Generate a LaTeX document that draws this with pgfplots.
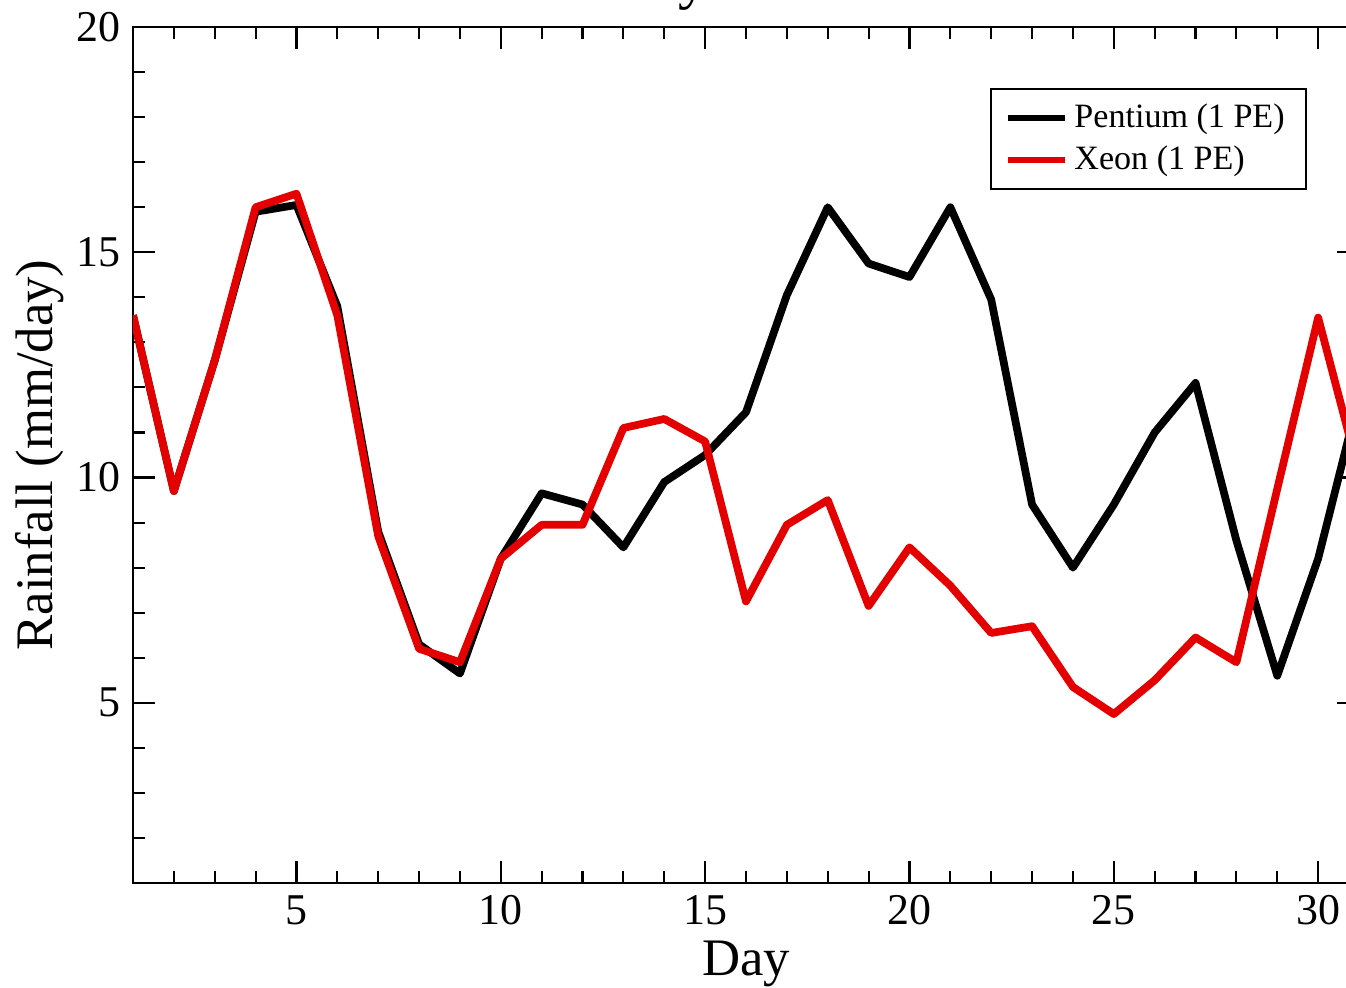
\documentclass[border=0pt]{standalone}
\usepackage{fontspec}
\setmainfont{Liberation Serif}
\usepackage{pgfplots}
\pgfplotsset{compat=1.18}
\begin{document}
\begin{tikzpicture}
% the reference is cropped at the top and on the right
\useasboundingbox (-1.33,-1.04) rectangle (12.13,8.83);
\clip (-1.33,-1.04) rectangle (12.13,8.83);
\begin{axis}[
  scale only axis, width=12.26cm, height=8.56cm,
  xmin=1, xmax=31, ymin=1, ymax=20,
  xtick={5,10,...,30}, ytick={5,10,15,20},
  minor xtick={2,3,...,31}, minor ytick={2,3,...,19},
  tick align=inside,
  major tick length=0.22cm, minor tick length=0.12cm,
  tick style={line width=0.6pt, black},
  axis line style={line width=0.6pt},
  /pgf/number format/assume math mode=true,
  ticklabel style={font=\fontsize{12.5}{14}\selectfont},
  xlabel={Day}, ylabel={Rainfall (mm/day)},
  every axis x label/.style={at={(axis description cs:0.5,0)}, yshift=-0.92cm,
    anchor=base, font=\fontsize{15}{17}\selectfont},
  every axis y label/.style={at={(axis description cs:-0.0759,0.5)}, rotate=90,
    anchor=center, font=\fontsize{15}{17}\selectfont},
  legend style={at={(0.699,0.929)}, anchor=north west, draw=black, line width=0.6pt,
    font=\fontsize{9.7}{11}\selectfont, row sep=-0.3pt, inner xsep=4pt, inner ysep=2.2pt},
  legend cell align=left,
  legend image code/.code={\draw[#1, line width=1.5pt] (0cm,0cm) -- (0.57cm,0cm);},
]
\addplot[black, line width=2.2pt, line join=round] coordinates {
  (1,13.6)(2,9.7)(3,12.6)(4,15.9)(5,16.05)(6,13.8)(7,8.8)(8,6.3)(9,5.65)(10,8.2)
  (11,9.65)(12,9.4)(13,8.45)(14,9.9)(15,10.5)(16,11.45)(17,14.05)(18,16.0)(19,14.75)(20,14.45)
  (21,16.0)(22,13.95)(23,9.4)(24,8.0)(25,9.4)(26,11.0)(27,12.1)(28,8.6)(29,5.6)(30,8.2)(31,11.8)
};
\addplot[red!90!black, line width=2.2pt, line join=round] coordinates {
  (1,13.6)(2,9.7)(3,12.6)(4,16.0)(5,16.3)(6,13.6)(7,8.7)(8,6.2)(9,5.9)(10,8.2)
  (11,8.95)(12,8.95)(13,11.1)(14,11.3)(15,10.8)(16,7.25)(17,8.95)(18,9.5)(19,7.15)(20,8.45)
  (21,7.6)(22,6.55)(23,6.7)(24,5.35)(25,4.75)(26,5.5)(27,6.45)(28,5.9)(29,9.75)(30,13.55)(31,10.1)
};
\legend{Pentium (1 PE), Xeon (1 PE)}
\end{axis}
\node[anchor=base, font=\fontsize{17}{20}\selectfont] at (6.13,8.85) {Daily Rainfall};
\end{tikzpicture}
\end{document}
